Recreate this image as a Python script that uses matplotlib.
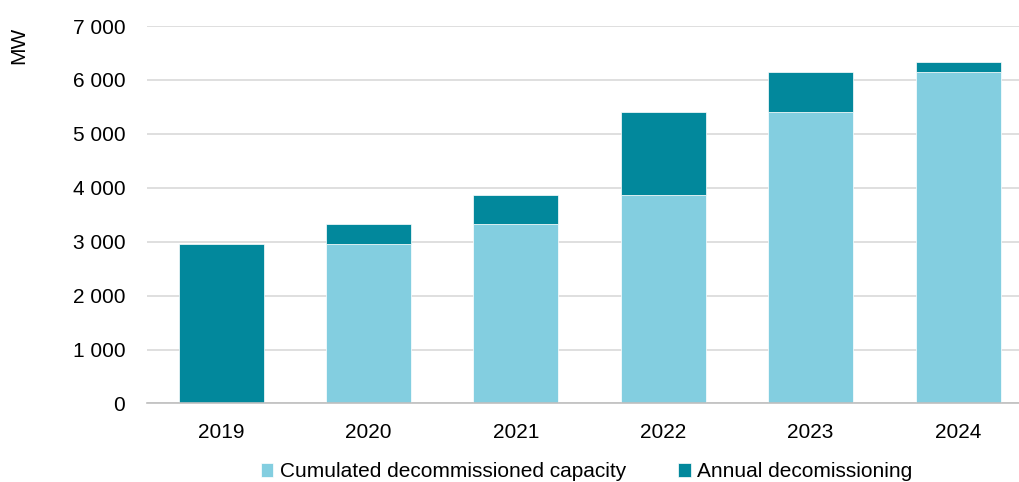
import matplotlib.pyplot as plt
import numpy as np
from matplotlib.ticker import FuncFormatter

years = ['2019', '2020', '2021', '2022', '2023', '2024']
cumulated = [0, 2950, 3320, 3870, 5400, 6145]
annual = [2950, 370, 550, 1530, 745, 185]

LIGHT = '#83cee0'
DARK = '#02889c'

plt.rcParams['font.family'] = ['Liberation Sans', 'DejaVu Sans']

fig = plt.figure(figsize=(10.2, 4.82), dpi=100)
ax = fig.add_axes([0.1445, 0.163, 0.867, 0.783])

x = np.arange(len(years))
ax.bar(x, cumulated, width=0.577, color=LIGHT, label='Cumulated decommissioned capacity',
       edgecolor='white', linewidth=0.5, zorder=3)
ax.bar(x, annual, width=0.577, bottom=cumulated, color=DARK, label='Annual decomissioning',
       edgecolor='white', linewidth=0.5, zorder=3)

ax.set_xlim(-0.5, len(years) - 0.5)
ax.set_ylim(0, 7000)
ax.set_yticks(range(0, 7001, 1000))
ax.yaxis.set_major_formatter(FuncFormatter(lambda v, p: f'{int(v):,}'.replace(',', ' ')))
ax.set_xticks(x)
ax.set_xticklabels(years)
ax.tick_params(axis='both', length=0, labelsize=15, colors='black')
ax.tick_params(axis='y', pad=16)
ax.tick_params(axis='x', pad=14)

ax.grid(axis='y', color='#d9d9d9', linewidth=1.2, zorder=0)
for s in ['top', 'right', 'left']:
    ax.spines[s].set_visible(False)
ax.spines['bottom'].set_color('#bfbfbf')
ax.spines['bottom'].set_linewidth(1.2)
ax.spines['bottom'].set_zorder(4)

fig.text(0.018, 0.905, 'MW', rotation=90, fontsize=15, ha='center', va='center')

fig.legend(loc='center', bbox_to_anchor=(0.575, 0.021), ncol=2, frameon=False, fontsize=15,
           handlelength=0.6, handleheight=0.6, handletextpad=0.3, columnspacing=2.5)

fig.savefig('out.png', dpi=100)
